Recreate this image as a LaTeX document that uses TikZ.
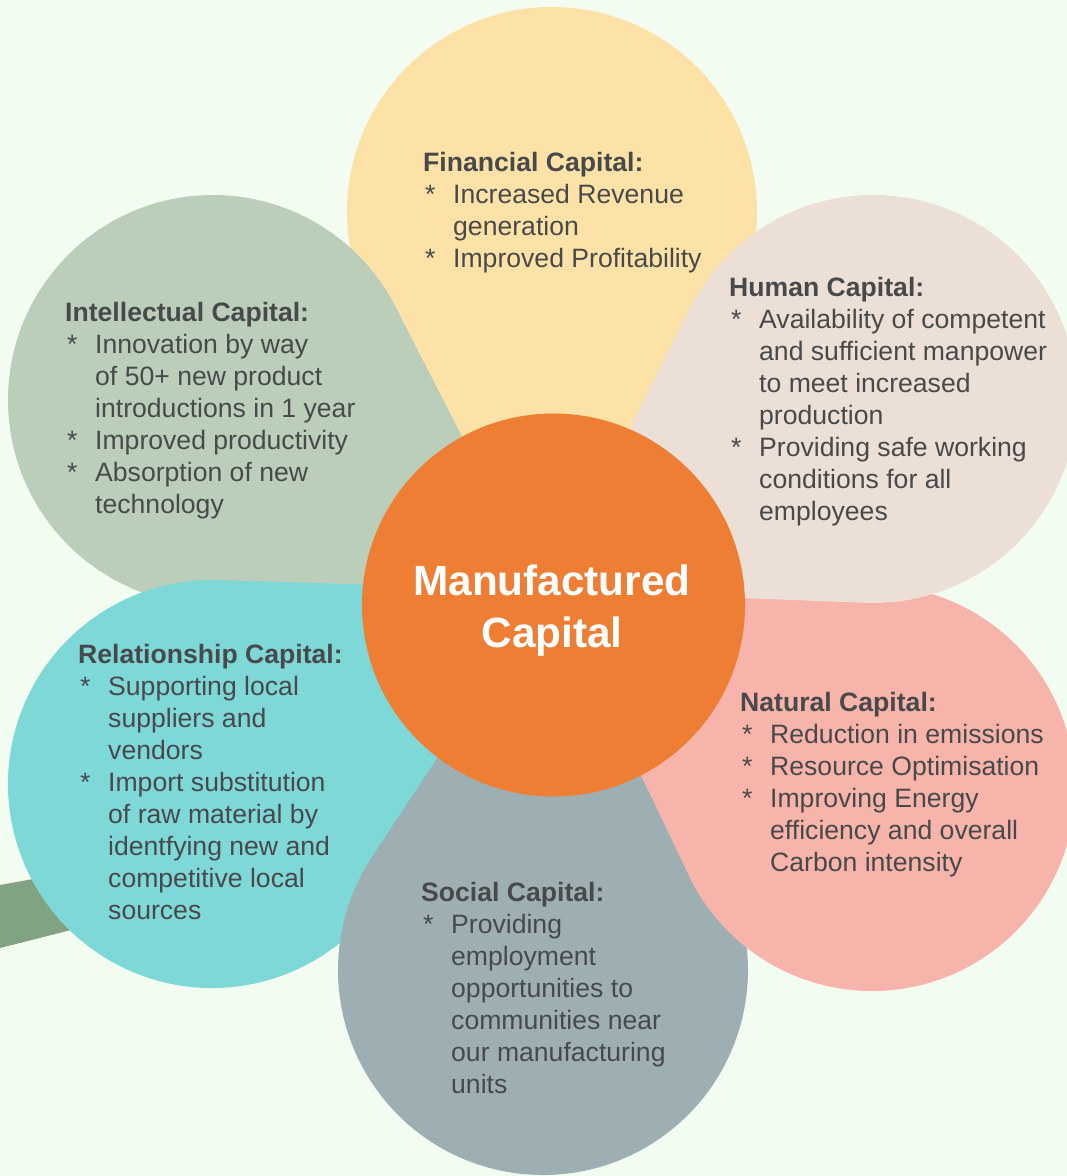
\documentclass[tikz,border=0pt]{standalone}
\usepackage{fontspec}
\newfontfamily\lsans{Liberation Sans}
\usetikzlibrary{calc}
\definecolor{bgc}{HTML}{F3FCF0}
\definecolor{finc}{HTML}{FDE2A8}
\definecolor{intc}{HTML}{BBCEBA}
\definecolor{relc}{HTML}{7FD8D8}
\definecolor{socc}{HTML}{9EAFB4}
\definecolor{natc}{HTML}{F7B4AA}
\definecolor{humc}{HTML}{EBDFD6}
\definecolor{corec}{HTML}{EE7E33}
\definecolor{stemc}{HTML}{82A383}
\definecolor{txtc}{HTML}{48494B}
% petal: colour, centre x, centre y, radius, tip x, tip y
\newcommand{\petal}[6]{%
  \pgfmathsetmacro\pdist{veclen(#5-#2,#6-#3)}%
  \pgfmathsetmacro\pang{atan2(#6-#3,#5-#2)}%
  \pgfmathsetmacro\pbeta{acos(#4/\pdist)}%
  \fill[#1] (#5,#6) -- ($(#2,#3)+(\pang+\pbeta:#4)$)
    arc[start angle=\pang+\pbeta, end angle=\pang+360-\pbeta, radius=#4] -- cycle;
}
\newcommand{\bul}{\makebox[30pt][l]{\hspace{2pt}*}}
\newcommand{\ind}{\hspace*{30pt}}
\begin{document}
\begin{tikzpicture}[x=1pt,y=-1pt,
  txt/.style={anchor=base west, inner sep=0pt, text=txtc,
    font=\lsans\fontsize{26.6}{32}\selectfont},
  coretxt/.style={anchor=base, inner sep=0pt, text=white,
    font=\lsans\bfseries\fontsize{42.3}{52}\selectfont}]
\useasboundingbox (0,0) rectangle (1067,1176);
\fill[bgc] (0,0) rectangle (1067,1176);
% stem
\fill[stemc] (0,885) -- (150,858) -- (150,910) -- (0,948) -- cycle;
% petals (stacking order as in the reference)
\petal{finc}{552}{212}{205}{553}{605}
\petal{intc}{213}{400}{205}{548}{605}
\petal{relc}{212}{784}{204}{553}{590}
\petal{socc}{543}{970}{205}{538}{605}
\petal{natc}{872}{788}{203}{560}{605}
\petal{humc}{873}{399}{204}{549.5}{590.7}
% core
\node[circle, fill=corec, minimum size=383pt, inner sep=0pt] (core) at (553.5,605) {};
\node[coretxt] (mc) at (552,595) {\parbox[t]{400pt}{\centering Manufactured\\Capital}};
% texts
\node[txt] (fin) at (423,171) {\parbox[t]{400pt}{\raggedright
  \textbf{Financial Capital:}\\
  \bul Increased Revenue\\
  \ind generation\\
  \bul Improved Profitability}};
\node[txt] (int) at (65,321) {\parbox[t]{400pt}{\raggedright
  \textbf{Intellectual Capital:}\\
  \bul Innovation by way\\
  \ind of 50+ new product\\
  \ind introductions in 1 year\\
  \bul Improved productivity\\
  \bul Absorption of new\\
  \ind technology}};
\node[txt] (hum) at (729,296) {\parbox[t]{400pt}{\raggedright
  \textbf{Human Capital:}\\
  \bul Availability of competent\\
  \ind and sufficient manpower\\
  \ind to meet increased\\
  \ind production\\
  \bul Providing safe working\\
  \ind conditions for all\\
  \ind employees}};
\node[txt] (rel) at (78,663) {\parbox[t]{400pt}{\raggedright
  \textbf{Relationship Capital:}\\
  \bul Supporting local\\
  \ind suppliers and\\
  \ind vendors\\
  \bul Import substitution\\
  \ind of raw material by\\
  \ind identfying new and\\
  \ind competitive local\\
  \ind sources}};
\node[txt] (nat) at (740,711) {\parbox[t]{400pt}{\raggedright
  \textbf{Natural Capital:}\\
  \bul Reduction in emissions\\
  \bul Resource Optimisation\\
  \bul Improving Energy\\
  \ind efficiency and overall\\
  \ind Carbon intensity}};
\node[txt] (soc) at (421,901) {\parbox[t]{400pt}{\raggedright
  \textbf{Social Capital:}\\
  \bul Providing\\
  \ind employment\\
  \ind opportunities to\\
  \ind communities near\\
  \ind our manufacturing\\
  \ind units}};
\end{tikzpicture}
\end{document}
